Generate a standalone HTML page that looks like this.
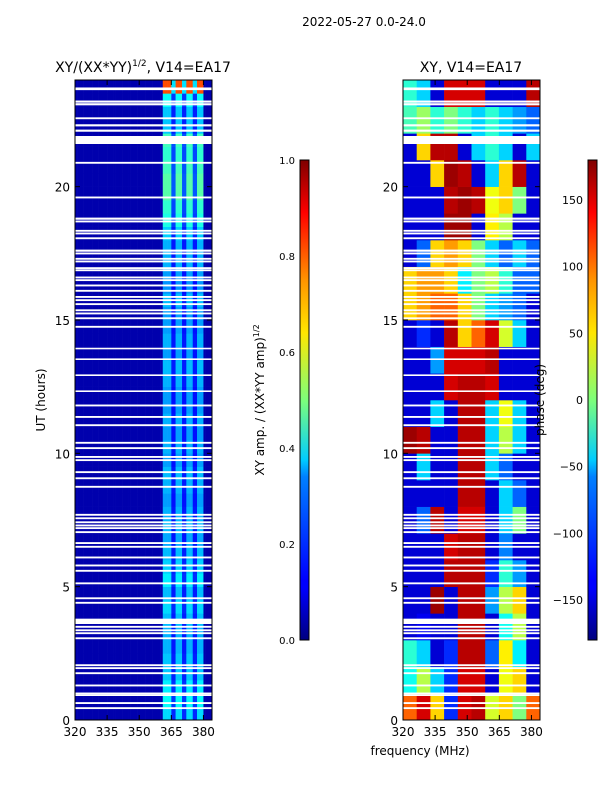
<!DOCTYPE html>
<html><head><meta charset="utf-8">
<style>
body{margin:0;background:#fff;}
svg{display:block;font-family:"DejaVu Sans","Liberation Sans",sans-serif;}
</style></head>
<body>
<svg id="fig" width="600" height="800" viewBox="0 0 600 800" xmlns="http://www.w3.org/2000/svg">
<defs>
<linearGradient id="jetv" x1="0" y1="1" x2="0" y2="0">
<stop offset="0" stop-color="#00007f"/><stop offset="0.11" stop-color="#0000ff"/><stop offset="0.125" stop-color="#0000ff"/>
<stop offset="0.34" stop-color="#0080ff"/><stop offset="0.375" stop-color="#00ccff"/><stop offset="0.5" stop-color="#7dff7a"/>
<stop offset="0.64" stop-color="#ffe600"/><stop offset="0.75" stop-color="#ff9400"/><stop offset="0.89" stop-color="#ff0000"/><stop offset="1" stop-color="#7f0000"/>
</linearGradient>
</defs>
<text x="364" y="26" font-size="12" text-anchor="middle">2022-05-27 0.0-24.0</text>
<text x="143" y="72" font-size="14" text-anchor="middle">XY/(XX*YY)<tspan font-size="9" dy="-6">1/2</tspan><tspan dy="6">, V14=EA17</tspan></text>
<text x="471" y="72" font-size="14" text-anchor="middle">XY, V14=EA17</text>
<g id="leftCells"></g>
<g id="rightCells"></g>
<g id="flagsG"></g>
<g id="axesG"></g>
<rect x="300" y="160" width="9" height="480" fill="url(#jetv)" stroke="#000" stroke-width="1"/>
<rect x="588" y="160" width="9" height="480" fill="url(#jetv)" stroke="#000" stroke-width="1"/>
<text transform="translate(264,400) rotate(-90)" font-size="12" text-anchor="middle">XY amp. / (XX*YY amp)<tspan font-size="8" dy="-5">1/2</tspan></text>
<text transform="translate(544,400) rotate(-90)" font-size="12" text-anchor="middle">phase (deg)</text>
<text transform="translate(45,400) rotate(-90)" font-size="12" text-anchor="middle">UT (hours)</text>
<text x="420" y="755" font-size="12" text-anchor="middle">frequency (MHz)</text>
</svg>
<script>
// ---- data ----
var freqTicks = [320, 335, 350, 365, 380];
var hourTicks = [0, 5, 10, 15, 20];
var ampTicks = [0.0, 0.2, 0.4, 0.6, 0.8, 1.0];
var phaseTicks = [-150, -100, -50, 0, 50, 100, 150];
// amplitude: channel weights (1 MHz channels from 320 MHz)
var ampBase = 0.045;
var chanWeight = [0,0,0,0,0,0,0,0,0,0,0,0,0,0,0,0,0,0,0,0,0,0,0,0,0,0,0,0,0,0,0,0,0,0,0,0,0,0,0,0,0,
  1,1,1,1,0.4,0.4,1,1,1,0.4,0.4,1,1,1,0.4,0.4,1,1,1,0,0,0,0];
// amplitude per half-hour (0..24h)
var ampGain = [0.34,0.38,0.36,0.32,0.32,0.3,0.3,0.31,0.34,0.31,0.36,0.33,0.31,0.29,0.31,0.3,0.28,0.3,0.31,0.28,
  0.3,0.28,0.3,0.28,0.28,0.3,0.31,0.28,0.3,0.28,0.28,0.31,0.27,0.28,0.3,0.3,0.33,0.4,0.42,0.46,
  0.46,0.44,0.42,0.44,0.32,0.32,0.38,0.8];
// phase per hour (rows 0..23) x 10 frequency bands (6.4 MHz each)
var phase = [
 [100,150,60,-120,150,160,30,60,0,100],
 [-40,20,-60,-120,150,150,-150,40,60,-150],
 [-30,-60,-150,-120,160,160,-100,50,-50,-150],
 [-150,-140,-150,-150,160,160,-150,-40,20,-150],
 [-150,-150,170,-150,160,160,-80,20,60,-150],
 [-150,-150,-150,160,160,160,-120,-30,-80,-150],
 [-150,-150,-150,150,160,160,-150,-90,-150,-150],
 [-150,-100,160,-150,150,150,-150,-60,0,-150],
 [-150,-150,-150,-150,160,160,-150,-60,-100,-150],
 [-150,-60,-150,-150,160,160,-60,-100,-150,-150],
 [170,160,-150,-150,160,160,-60,20,-60,-150],
 [-150,-150,-60,-150,160,160,-60,40,-60,-150],
 [-150,-150,-150,150,160,160,150,-150,-150,-150],
 [-150,-150,-80,150,150,150,160,-150,-150,-150],
 [-150,-120,-150,160,60,100,150,30,-60,-150],
 [60,80,100,100,60,0,-60,-80,-100,-150],
 [60,80,80,60,-50,0,20,-30,-100,-100],
 [-150,-100,60,80,60,0,-60,-100,-60,-100],
 [-150,-150,-150,170,170,-150,50,20,-150,-150],
 [-150,-150,-150,160,170,160,40,60,0,-150],
 [-150,-150,60,170,160,-150,-60,60,160,-150],
 [-150,60,160,160,-150,-60,-30,-60,-150,-60],
 [-20,10,-30,0,-30,-60,-30,-60,-80,-100],
 [-30,-60,-150,150,150,150,-150,-150,-150,160]
];
// flagged (white) time ranges, hours
var flagStart = [23.62,23.15,23.05,22.53,22.26,22.06,21.6,20.86,19.56,18.76,18.66,18.31,18.21,18.03,17.56,17.46,17.26,17.16,16.91,16.83,16.56,16.46,16.26,16.06,15.83,15.71,15.56,15.33,15.21,15.03,14.71,13.9,13.5,12.9,12.3,11.76,11.33,11.02,10.36,10.16,9.83,9.71,9.26,9.03,8.71,7.66,7.53,7.38,7.26,7.16,7.01,6.6,6.46,6.06,5.76,5.56,5.09,4.53,4.36,3.6,3.46,3.33,3.22,3.03,2.02,1.91,1.72,1.26,0.96,0.9,0.6,0.41];
var flagEnd =   [23.72,23.23,23.13,22.6,22.34,22.14,21.9,20.93,19.63,18.84,18.73,18.38,18.28,18.1,17.64,17.53,17.33,17.23,16.98,16.9,16.63,16.53,16.33,16.13,15.9,15.78,15.63,15.4,15.28,15.1,14.78,13.96,13.56,12.96,12.36,11.83,11.4,11.09,10.43,10.23,9.9,9.78,9.33,9.1,8.78,7.73,7.6,7.45,7.33,7.23,7.08,6.67,6.53,6.13,5.83,5.63,5.16,4.6,4.43,3.8,3.53,3.4,3.29,3.1,2.09,1.98,1.79,1.33,1.03,0.96,0.67,0.48];

// ---- scales ----
var FMIN=320, FMAX=384, YTOP=80, YBOT=720;
function xL(f){return 75+(f-FMIN)*(137/(FMAX-FMIN));}
function xR(f){return 403+(f-FMIN)*(137/(FMAX-FMIN));}
function yH(h){return YBOT-h*(YBOT-YTOP)/24;}
function yAmp(v){return 640-v*480;}
function yPh(p){return 640-(p+180)/360*480;}
function cl(v){return Math.max(0,Math.min(1,v));}
function jet(v){v=cl(v);var r=cl(1.5-Math.abs(4*v-3)),g=cl(1.5-Math.abs(4*v-2)),b=cl(1.5-Math.abs(4*v-1));
 return 'rgb('+Math.round(r*255)+','+Math.round(g*255)+','+Math.round(b*255)+')';}
var NS='http://www.w3.org/2000/svg';
function mk(tag,attrs,parent){var e=document.createElementNS(NS,tag);for(var k in attrs)e.setAttribute(k,attrs[k]);parent.appendChild(e);return e;}

// amplitude cells
var lg=document.getElementById('leftCells');
var nRowsA=ampGain.length;
for(var r=0;r<nRowsA;r++){
 var h0=r*24/nRowsA,h1=(r+1)*24/nRowsA;
 for(var c=0;c<chanWeight.length;c++){
  var v=ampBase+chanWeight[c]*(ampGain[r]-ampBase);
  var x0=xL(FMIN+c),x1=xL(FMIN+c+1);
  var e=mk('rect',{x:x0,y:yH(h1),width:x1-x0+0.3,height:yH(h0)-yH(h1)+0.3,fill:jet(v)},lg);
  
  
 }
}
// phase cells
var rg=document.getElementById('rightCells');
var nb=phase[0].length,bw=(FMAX-FMIN)/nb;
for(var r=0;r<phase.length;r++){
 for(var c=0;c<nb;c++){
  var x0=xR(FMIN+c*bw),x1=xR(FMIN+(c+1)*bw);
  var e=mk('rect',{x:x0,y:yH(r+1),width:x1-x0+0.3,height:yH(r)-yH(r+1)+0.3,fill:jet((phase[r][c]+180)/360)},rg);
  
  
 }
}
// flags
var fg=document.getElementById('flagsG');
for(var i=0;i<flagStart.length;i++){
 [[75,137],[403,137]].forEach(function(p){
  var e=mk('rect',{x:p[0],y:yH(flagEnd[i]),width:p[1],height:yH(flagStart[i])-yH(flagEnd[i]),fill:'#fff'},fg);
  
  
 });
}
// axes
var ag=document.getElementById('axesG');
[[75,xL],[403,xR]].forEach(function(p){
 var x0=p[0],sx=p[1];
 var fr=mk('rect',{x:x0,y:YTOP,width:137,height:YBOT-YTOP,fill:'none',stroke:'#000','stroke-width':1},ag);
 
 
 freqTicks.forEach(function(f){
  var x=sx(f);
  mk('line',{x1:x,y1:YBOT,x2:x,y2:YBOT-5,stroke:'#000'},ag);
  mk('line',{x1:x,y1:YTOP,x2:x,y2:YTOP+5,stroke:'#000'},ag);
  var t=mk('text',{x:x,y:YBOT+16,'font-size':12,'text-anchor':'middle'},ag);
  t.textContent=f;
  
  
 });
 hourTicks.forEach(function(h){
  var y=yH(h);
  mk('line',{x1:x0,y1:y,x2:x0+5,y2:y,stroke:'#000'},ag);
  mk('line',{x1:x0+137,y1:y,x2:x0+132,y2:y,stroke:'#000'},ag);
  var t=mk('text',{x:x0-5,y:y+5,'font-size':12,'text-anchor':'end'},ag);
  t.textContent=h;
  
  
 });
});
ampTicks.forEach(function(v){
 var y=yAmp(v);
 mk('line',{x1:300,y1:y,x2:303,y2:y,stroke:'#000'},ag);
 mk('line',{x1:309,y1:y,x2:306,y2:y,stroke:'#000'},ag);
 var t=mk('text',{x:295,y:y+4,'font-size':10,'text-anchor':'end'},ag);
 t.textContent=v.toFixed(1);
 
 
});
phaseTicks.forEach(function(v){
 var y=yPh(v);
 mk('line',{x1:588,y1:y,x2:591,y2:y,stroke:'#000'},ag);
 mk('line',{x1:597,y1:y,x2:594,y2:y,stroke:'#000'},ag);
 var t=mk('text',{x:583,y:y+4,'font-size':11,'text-anchor':'end'},ag);
 t.textContent=v<0?'\u2212'+(-v):v;
 
 
});
</script>
</body></html>
